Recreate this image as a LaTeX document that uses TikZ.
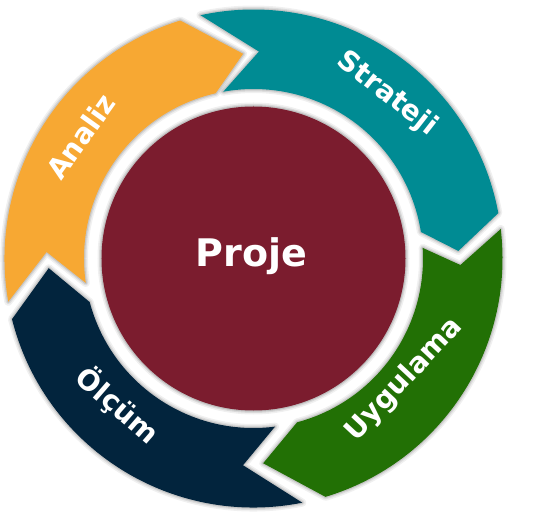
\documentclass[tikz,border=0pt]{standalone}
\usepackage{fontspec}
\setmainfont{DejaVu Sans}
\definecolor{cOrange}{HTML}{F7A833}
\definecolor{cTeal}{HTML}{008B93}
\definecolor{cGreen}{HTML}{227005}
\definecolor{cNavy}{HTML}{02243D}
\definecolor{cMaroon}{HTML}{7B1C2E}
\def\Ro{249}
\def\Ri{169.5}
\def\Rt{205}
\def\Rn{207}
% #1 style, #2 tail outer, #3 tail inner, #4 notch, #5 head outer, #6 head inner, #7 tip
\newcommand\ringseg[7]{\path[#1] (#2:\Ro) arc[start angle=#2,end angle=#5,radius=\Ro] -- (#7:\Rt) -- (#6:\Ri) arc[start angle=#6,end angle=#3,radius=\Ri] -- (#4:\Rn) -- cycle;}
\newcommand\allsegs[1]{%
  \ringseg{#1,fill=cOrange}{190}{188.3}{178.2}{107.1}{102.9}{92.9}%
  \ringseg{#1,fill=cTeal}{102.3}{100.3}{88.5}{10.5}{9.0}{2.1}%
  \ringseg{#1,fill=cGreen}{6.8}{3.6}{-1.8}{-73.2}{-75.1}{-87.3}%
  \ringseg{#1,fill=cNavy}{281.3}{277.3}{267.1}{194.1}{194.9}{182.7}%
}
\tikzset{
  shadowA/.style={fill opacity=0,draw=black,draw opacity=0.06,line width=8,line join=round},
  shadowB/.style={fill opacity=0,draw=black,draw opacity=0.08,line width=5,line join=round},
  shadowC/.style={fill opacity=0,draw=black,draw opacity=0.10,line width=2.5,line join=round},
  plain/.style={},
  lab/.style={text=white,font=\fontsize{28}{32}\selectfont\bfseries,anchor=mid,inner sep=0pt},
  title/.style={text=white,font=\fontsize{38}{44}\selectfont\bfseries,anchor=base,inner sep=0pt}
}
\begin{document}
\begin{tikzpicture}[x=1pt,y=1pt]
\useasboundingbox (-253.5,-254.5) rectangle (302.5,258.5);
% ring shadows
\allsegs{shadowA}
\allsegs{shadowB}
\allsegs{shadowC}
% ring fills
\allsegs{plain}
% centre circle
\draw[black,opacity=0.06,line width=8] (0,0) circle[radius=152];
\draw[black,opacity=0.09,line width=5] (0,0) circle[radius=152];
\draw[black,opacity=0.12,line width=2.5] (0,0) circle[radius=152];
\node[circle,fill=cMaroon,minimum size=304pt,inner sep=0pt] (core) at (0,0) {};
% labels
\node[title] (proje) at (-2,-8.5) {Proje};
\node[lab,rotate=54.5] (analiz) at (-166.5,117.5) {Analiz};
\node[lab,rotate=-38] (strateji) at (130.5,160.5) {Strateji};
\node[lab,rotate=47] (uygulama) at (154.5,-124.5) {Uygulama};
\node[lab,rotate=-41] (olcum) at (-140.5,-152.5) {Ölçüm};
\end{tikzpicture}
\end{document}
